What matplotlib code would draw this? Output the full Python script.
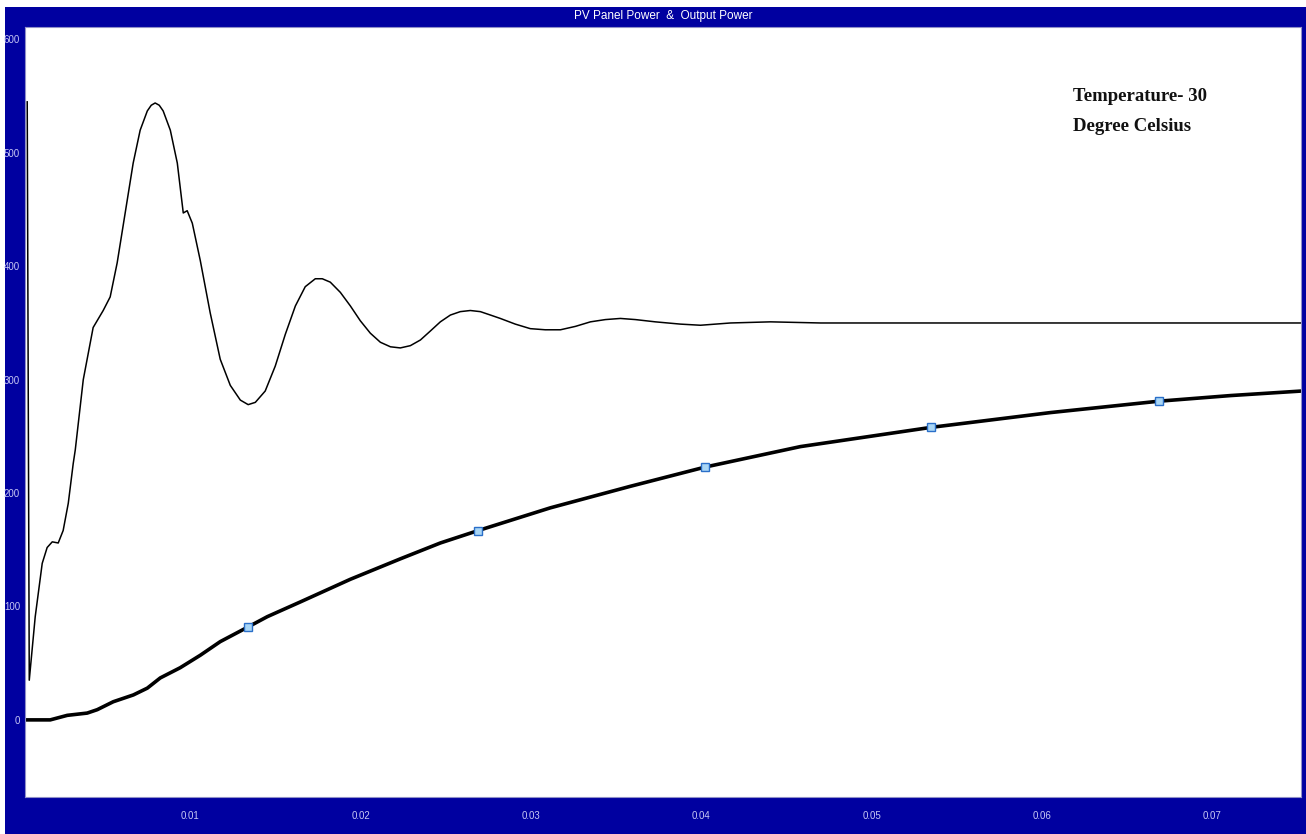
import matplotlib
matplotlib.use("Agg")
import matplotlib.pyplot as plt
from matplotlib.patches import Rectangle

# PV panel power (W) versus time (s)
pv_time = [0.00043, 0.00055, 0.00090, 0.00131, 0.00160, 0.00190, 0.00225, 0.00254,
           0.00284, 0.00313, 0.00325, 0.00372, 0.00430, 0.00489, 0.00530, 0.00571,
           0.00618, 0.00665, 0.00706, 0.00748, 0.00771, 0.00794, 0.00818, 0.00841,
           0.00883, 0.00924, 0.00959, 0.00982, 0.01012, 0.01059, 0.01117, 0.01176,
           0.01235, 0.01294, 0.01340, 0.01382, 0.01440, 0.01499, 0.01558, 0.01617,
           0.01675, 0.01734, 0.01775, 0.01822, 0.01881, 0.01940, 0.01998, 0.02057,
           0.02116, 0.02175, 0.02233, 0.02292, 0.02351, 0.02410, 0.02468, 0.02527,
           0.02585, 0.02644, 0.02703, 0.02762, 0.02820, 0.02908, 0.02996, 0.03084,
           0.03173, 0.03261, 0.03349, 0.03437, 0.03525, 0.03613, 0.03730, 0.03877,
           0.03995, 0.04171, 0.04406, 0.04700, 0.05169, 0.05756, 0.07524]
pv_power = [545, 35, 91, 138, 152, 157, 156, 167,
            191, 226, 238, 300, 346, 361, 373, 403,
            447, 491, 520, 537, 542, 544, 542, 537,
            520, 491, 447, 449, 438, 405, 359, 318,
            295, 282, 278, 280, 290, 312, 340, 365,
            382, 389, 389, 386, 377, 365, 352, 341,
            333, 329, 328, 330, 335, 343, 351, 357,
            360, 361, 360, 357, 354, 349, 345, 344,
            344, 347, 351, 353, 354, 353, 351, 349,
            348, 350, 351, 350, 350, 350, 350]

# Output power (W) versus time (s)
out_time = [0.00031, 0.00178, 0.00278, 0.00395, 0.00454, 0.00548, 0.00666, 0.00748,
            0.00824, 0.00941, 0.01059, 0.01176, 0.01340, 0.01452, 0.01646, 0.01940,
            0.02233, 0.02468, 0.02691, 0.03114, 0.03584, 0.04024, 0.04582, 0.05351,
            0.06050, 0.06684, 0.07107, 0.07524]
out_power = [0, 0, 4, 6, 9, 16, 22, 28,
             37, 46, 57, 69, 82, 91, 104, 124,
             142, 156, 167, 187, 206, 223, 241, 258,
             271, 281, 286, 290]
# samples carrying a square marker
marker_idx = [12, 18, 21, 23, 25]

x_ticks = [0.01, 0.02, 0.03, 0.04, 0.05, 0.06, 0.07]
x_tick_labels = ["0.01", "0.02", "0.03", "0.04", "0.05", "0.06", "0.07"]
y_ticks = [0, 100, 200, 300, 400, 500, 600]
y_tick_labels = ["0", "100", "200", "300", "400", "500", "600"]

W, H = 1306, 834
NAVY = "#0000a0"
LABEL = "#c8c8f4"

fig = plt.figure(figsize=(W / 100, H / 100), dpi=100, facecolor="white")

# navy frame behind the plotting area
frame = Rectangle((5 / W, 0), (W - 5) / W, (H - 7) / H,
                  transform=fig.transFigure, facecolor=NAVY,
                  edgecolor="none", zorder=-10)
fig.add_artist(frame)

ax = fig.add_axes([25 / W, (H - 797) / H, (1301 - 25) / W, (797 - 27) / H])
ax.set_zorder(5)
ax.set_facecolor("white")
ax.set_xlim(0.0003, 0.0752)
ax.set_ylim(-68, 611)

ax.plot(pv_time, pv_power, color="black", lw=1.1, solid_joinstyle="round")
ax.plot(out_time, out_power, color="black", lw=2.6, solid_joinstyle="round",
        marker="s", markevery=marker_idx, markersize=6,
        markerfacecolor="#a9d6f5", markeredgecolor="#2a6fc9", markeredgewidth=1.0)

ax.set_xticks(x_ticks)
ax.set_xticklabels(x_tick_labels)
ax.set_yticks(y_ticks)
ax.set_yticklabels(y_tick_labels)
ax.tick_params(axis="both", length=0, colors=LABEL, labelsize=7)
ax.tick_params(axis="x", pad=10)
ax.tick_params(axis="y", pad=3.5)
for lab in ax.get_xticklabels() + ax.get_yticklabels():
    lab.set_fontfamily("Liberation Sans")
for sp in ax.spines.values():
    sp.set_color("#9090c8")
    sp.set_linewidth(0.8)

ax.set_title("PV Panel Power  &  Output Power", color="white", fontsize=8.5,
             family="Liberation Sans", pad=6)

ax.text(0.0618, 557, "Temperature- 30\nDegree Celsius", fontsize=13.5,
        fontweight="bold", family="Liberation Serif", va="top", ha="left",
        linespacing=2.0, color="#111111")

fig.savefig("out.png", dpi=100, facecolor="white")
